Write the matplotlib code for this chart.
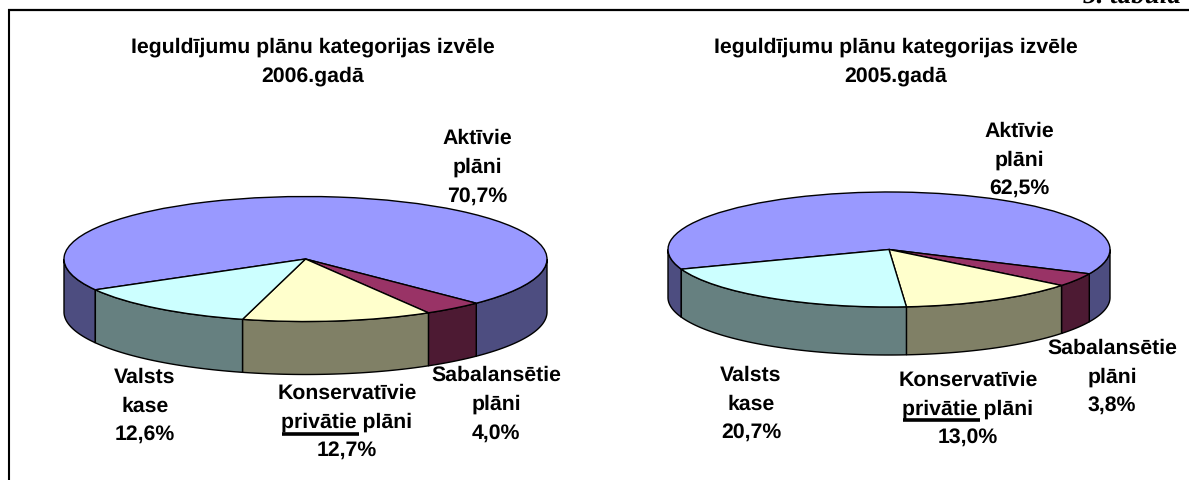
import numpy as np
import matplotlib
matplotlib.use("Agg")
import matplotlib.pyplot as plt
from matplotlib.patches import Wedge
from matplotlib.lines import Line2D

W, H = 1189, 481
plt.rcParams['font.family'] = ['Liberation Sans', 'DejaVu Sans']
plt.rcParams['text.hinting'] = 'none'

categories = ["Aktīvie plāni", "Sabalansētie plāni", "Konservatīvie privātie plāni", "Valsts kase"]
values_2006 = [70.7, 4.0, 12.7, 12.6]
values_2005 = [62.5, 3.8, 13.0, 20.7]
top_colors = ["#9999FF", "#993366", "#FFFFCC", "#CCFFFF"]
side_colors = ["#4D4D80", "#4D1A33", "#808066", "#668080"]

fig = plt.figure(figsize=(W / 100, H / 100), dpi=100, facecolor="white")


def px(x, y):
    return x / W, 1 - y / H


def draw_pie(values, end_first, cx, cy, a, b, depth):
    """Tilted pie: radius 1 in data units, squashed by the axes box."""
    ylow = -(b + depth + 6) / b
    yhigh = (b + 6) / b
    top_px = cy - yhigh * b
    bot_px = cy - ylow * b
    ax = fig.add_axes([(cx - a - 6) / W, 1 - bot_px / H, (2 * a + 12) / W, (bot_px - top_px) / H])
    ax.set_xlim(-(a + 6) / a, (a + 6) / a)
    ax.set_ylim(ylow, yhigh)
    ax.axis("off")
    d = depth / b
    start = end_first + 360 * values[0] / 100
    th = start
    for v, c in zip(values, side_colors):
        t0, t1 = th - 360 * v / 100, th
        th = t0
        for shift in (0, 360, -360):
            lo = max(t0 + shift, -180)
            hi = min(t1 + shift, 0)
            if hi > lo:
                t = np.radians(np.linspace(lo, hi, 80))
                xs = np.r_[np.cos(t), np.cos(t[::-1])]
                ys = np.r_[np.sin(t), np.sin(t[::-1]) - d]
                ax.fill(xs, ys, facecolor=c, edgecolor="black", lw=1.0, zorder=2)
    th = start
    for v, c in zip(values, top_colors):
        t0 = th - 360 * v / 100
        ax.add_patch(Wedge((0, 0), 1, t0, th, facecolor=c, edgecolor="black", lw=1.0, zorder=3))
        th = t0


draw_pie(values_2006, -45, 305.5, 260, 241.5, 62.5, 53)
draw_pie(values_2005, -25, 889, 250.5, 221, 57.5, 48)

FS = 15.3
LS = 1.6


def label(x, y, s):
    fx, fy = px(x, y)
    fig.text(fx, fy, s, ha="center", va="center", multialignment="center", fontsize=FS,
             fontweight="bold", color="black", linespacing=LS)


def pct(v):
    return f"{v:.1f}%".replace(".", ",")


label(313, 61.5, "Ieguldījumu plānu kategorijas izvēle\n2006.gadā")
label(896, 61.5, "Ieguldījumu plānu kategorijas izvēle\n2005.gadā")

label(477, 167.5, f"Aktīvie\nplāni\n{pct(values_2006[0])}")
label(145, 406, f"Valsts\nkase\n{pct(values_2006[3])}")
label(347, 422, f"Konservatīvie\nprivātie plāni\n{pct(values_2006[2])}")
label(496, 404.5, f"Sabalansētie\nplāni\n{pct(values_2006[1])}")

label(1019, 160, f"Aktīvie\nplāni\n{pct(values_2005[0])}")
label(751, 404, f"Valsts\nkase\n{pct(values_2005[3])}")
label(968, 409, f"Konservatīvie\nprivātie plāni\n{pct(values_2005[2])}")
label(1112, 377, f"Sabalansētie\nplāni\n{pct(values_2005[1])}")


def hline(x0, x1, y, lw):
    (a, b), (c, d) = px(x0, y), px(x1, y)
    fig.add_artist(Line2D([a, c], [b, d], color="black", lw=lw, solid_capstyle="butt"))


hline(282, 359, 434.5, 2.6)
hline(903, 980, 421, 2.6)

# frame
hline(8, W, 11, 1.6)
a, b = px(9, 10)
c, d = px(9, H)
fig.add_artist(Line2D([a, c], [b, d], color="black", lw=1.5, solid_capstyle="butt"))

fx, fy = px(1181, 3.5)
fig.text(fx, fy, "5. tabula", ha="right", va="baseline", fontsize=19.5,
         fontweight="bold", fontstyle="italic", family="Liberation Serif", color="black")

fig.savefig("out.png", dpi=100, facecolor="white")
